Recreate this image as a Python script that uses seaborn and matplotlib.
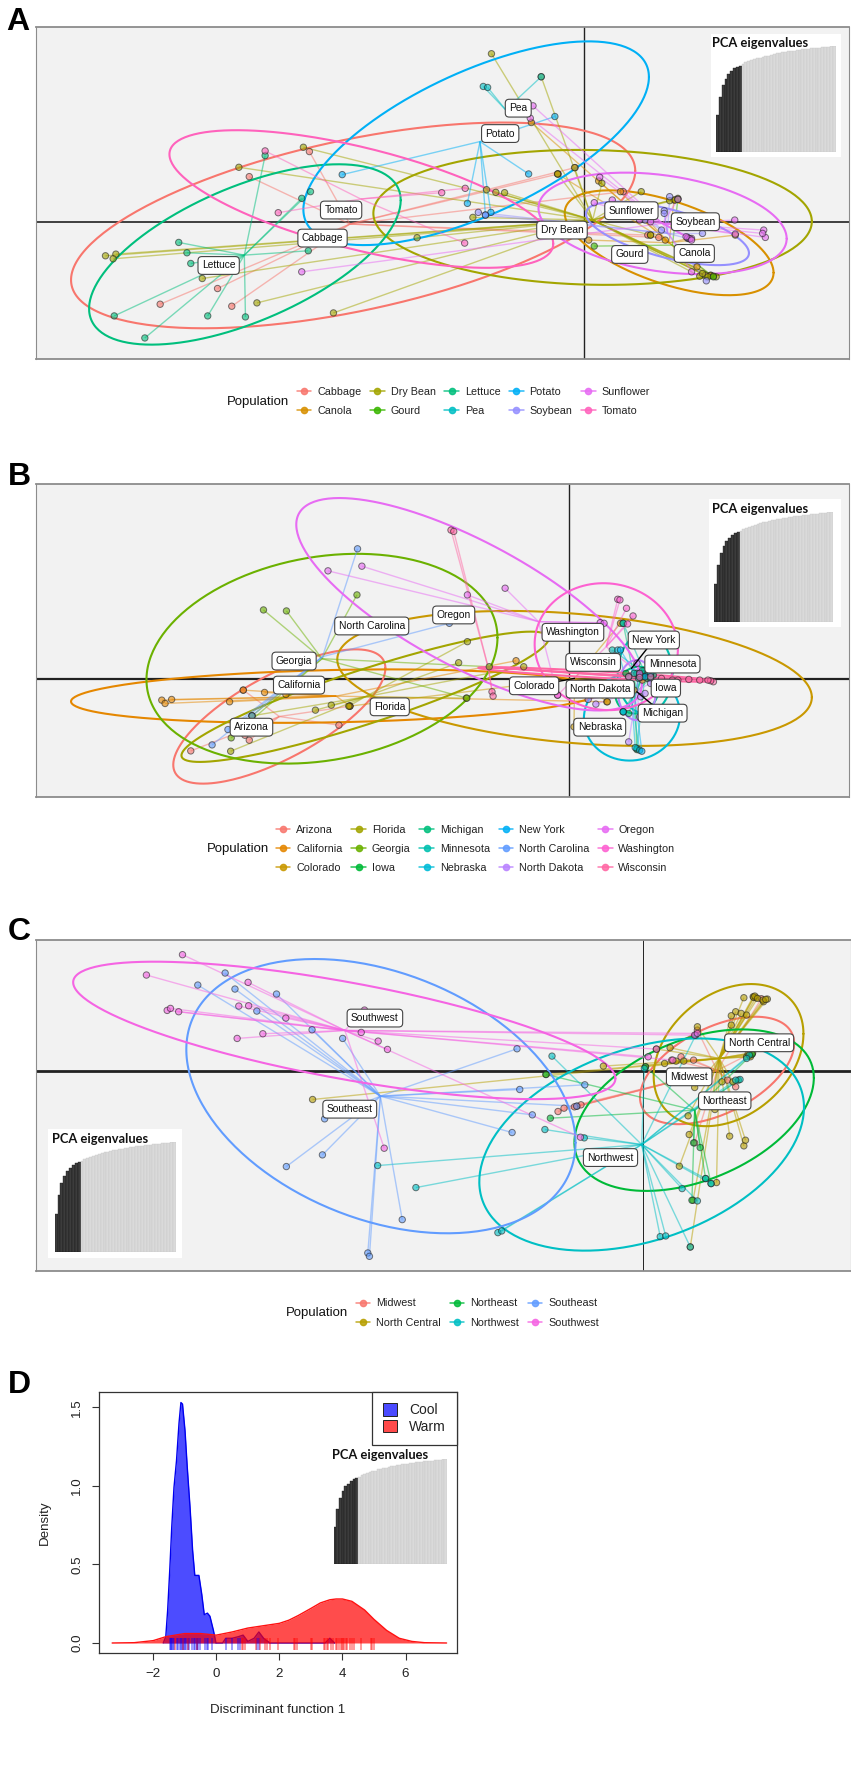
import numpy as np
import pandas as pd
import matplotlib
matplotlib.use('Agg')
import matplotlib.pyplot as plt
from matplotlib import font_manager
from matplotlib.lines import Line2D
from matplotlib.patches import Patch
import seaborn as sns

# Values are read off the picture, the PCA scores are in arbitrary picture units
# (the axes of a DAPC have no scale anyway, so only the origin matters)

# ---------- panel A, crops ----------
a_pops = ['Cabbage', 'Canola', 'Dry Bean', 'Gourd', 'Lettuce', 'Pea', 'Potato', 'Soybean', 'Sunflower', 'Tomato']
a_colors = ['#F8766D', '#D89000', '#A3A500', '#39B600', '#00BF7D', '#00BFC4', '#00B0F6', '#9590FF', '#E76BF3', '#FF62BC']
cabbage = [(456, 530), (566, 455), (293, 912), (398, 865), (424, 918), (1021, 522), (1052, 503), (1185, 705), (1205, 712), (1140, 575)]
canola = [(1077, 720), (1095, 543), (1135, 575), (972, 368), (1020, 522), (1260, 715), (1275, 800), (1300, 825), (1345, 705), (1217, 720), (1190, 705), (1233, 600)]
dry_bean = [(899, 162), (555, 442), (437, 502), (193, 767), (212, 762), (207, 776), (370, 835), (470, 908), (610, 938), (763, 713),
            (865, 652), (890, 569), (907, 577), (923, 578), (990, 231), (1051, 503), (1020, 522), (1101, 550), (1173, 575), (1225, 602),
            (1280, 828), (1300, 826), (1310, 830), (1190, 705), (1290, 825), (1295, 830), (1305, 828), (1285, 820), (1240, 595), (1235, 600)]
gourd = [(1087, 738), (1240, 598), (1305, 830)]
lettuce = [(485, 467), (552, 595), (568, 575), (327, 727), (342, 758), (349, 790), (564, 752), (209, 947), (265, 1013), (380, 947), (449, 950)]
pea = [(884, 260), (892, 263), (990, 231)]
potato = [(626, 524), (1015, 350), (967, 522), (855, 610), (898, 637), (888, 645)]
soybean = [(875, 637), (888, 645), (1215, 632), (1225, 590), (1285, 700), (1292, 842), (1180, 660), (1210, 690), (1258, 715), (1165, 630), (1215, 640)]
sunflower = [(975, 318), (970, 355), (552, 815), (1097, 532), (1344, 660), (1397, 690), (1400, 712), (1395, 700), (1265, 715), (1265, 815), (1240, 598),
             (1120, 600), (1087, 608), (1345, 702), (1258, 712), (1262, 716), (1265, 720), (1255, 710), (1170, 660), (1190, 665)]
tomato = [(485, 453), (509, 638), (850, 729), (808, 578), (851, 565)]
a_points = [cabbage, canola, dry_bean, gourd, lettuce, pea, potato, soybean, sunflower, tomato]
a_star_x = [640, 1224, 1084, 1230, 447, 925, 878, 1221, 1212, 660]
a_star_y = [672, 728, 660, 735, 765, 330, 425, 700, 670, 597]
a_ell_x = [646, 1224, 1084, np.nan, 448, np.nan, 871, 1221, 1212, 661]
a_ell_y = [676, 728, 652, np.nan, 763, np.nan, 430, 700, 670, 597]
a_ell_w = [516, 191, 401, np.nan, 285, np.nan, 316, 149, 227, 351]
a_ell_h = [308, 157, 202, np.nan, 270, np.nan, 305, 95, 152, 206]
a_ell_r = [0.53, -0.57, -0.06, np.nan, 0.6, np.nan, 0.65, -0.62, -0.3, -0.65]
a_lab_x = [590, 1270, 1028, 1152, 400, 948, 915, 1272, 1155, 624]
a_lab_y = [714, 760, 690, 763, 796, 325, 401, 665, 632, 630]

# ---------- panel B, states ----------
b_pops = ['Arizona', 'California', 'Colorado', 'Florida', 'Georgia', 'Iowa', 'Michigan', 'Minnesota', 'Nebraska',
          'New York', 'North Carolina', 'North Dakota', 'Oregon', 'Washington', 'Wisconsin']
b_colors = ['#F8766D', '#E58700', '#C99800', '#A3A500', '#6BB100', '#00BA38', '#00BF7D', '#00C0AF', '#00BCD8',
            '#00B0F6', '#619CFF', '#B983FF', '#E76BF3', '#FD61D1', '#FF67A4']
arizona = [(349, 872), (456, 840), (448, 825), (620, 795), (445, 690), (640, 738)]
california = [(296, 720), (302, 730), (314, 718), (420, 725), (484, 697), (523, 703), (445, 690), (944, 602), (640, 738), (1110, 725)]
colorado = [(1111, 725), (1135, 490), (640, 738), (1050, 800), (1160, 690), (1175, 660)]
florida = [(422, 873), (461, 767), (855, 545), (839, 608), (853, 714), (958, 620), (606, 735), (577, 750), (638, 738)]
georgia = [(482, 450), (524, 453), (653, 405), (423, 833), (854, 714), (461, 767), (895, 620)]
iowa = [(1180, 640), (1165, 868), (1145, 640), (1178, 632), (1190, 640), (1172, 650), (1184, 655)]
michigan = [(1140, 755), (1140, 490), (1175, 640), (1175, 650), (1195, 645), (1150, 760), (1165, 640)]
minnesota = [(1140, 490), (1165, 865), (1120, 570), (1190, 650), (1140, 755), (1170, 640), (1185, 635), (1190, 655), (1160, 640), (1175, 632), (1168, 655)]
nebraska = [(1162, 862), (1170, 870), (1140, 755), (1130, 570), (1150, 650), (1170, 650)]
new_york = [(1174, 873), (1135, 570), (1190, 640), (1180, 650), (1170, 645)]
north_carolina = [(654, 267), (388, 854), (822, 490), (461, 767), (417, 808)]
north_dakota = [(1076, 718), (1090, 732), (1172, 710), (1170, 770), (1165, 610), (1150, 845), (1180, 700), (1190, 670)]
oregon = [(600, 333), (662, 319), (855, 405), (924, 385), (1098, 488), (1105, 490), (1020, 705)]
washington = [(1130, 418), (1134, 420), (1146, 445), (1158, 468), (1148, 492), (1020, 705), (1170, 640)]
wisconsin = [(825, 211), (830, 215), (900, 695), (902, 708), (1305, 665), (1190, 650), (1150, 650), (1230, 660),
             (1300, 662), (1295, 660), (1280, 660), (1260, 658), (1240, 660), (1210, 655), (1170, 652)]
b_points = [arizona, california, colorado, florida, georgia, iowa, michigan, minnesota, nebraska,
            new_york, north_carolina, north_dakota, oregon, washington, wisconsin]
b_star_x = [511, 615, 1051, 668, 589, 1160, 1165, 1180, 1156, 1155, 590, 1165, 985, 1109, 893]
b_star_y = [769, 708, 655, 710, 596, 650, 695, 640, 720, 625, 590, 690, 485, 560, 622]
b_ell_x = [511, 615, 1051, 668, 589, np.nan, 1165, 1180, 1156, np.nan, np.nan, 1165, 858, 1109, 1090]
b_ell_y = [769, 708, 655, 710, 596, np.nan, 690, 640, 770, np.nan, np.nan, 690, 433, 560, 643]
b_ell_w = [194, 485, 434, 336, 321, np.nan, 40, 50, 88, np.nan, np.nan, 35, 316, 131, 215]
b_ell_h = [201, 80, 202, 195, 314, np.nan, 70, 120, 131, np.nan, np.nan, 90, 318, 190, 22]
b_ell_r = [0.72, 0.2, -0.28, 0.9, 0.2, np.nan, 0.1, 0.0, 0.05, np.nan, np.nan, 0.0, -0.75, -0.04, -0.9]
b_lab_x = [460, 547, 977, 713, 538, 1218, 1212, 1230, 1097, 1196, 680, 1098, 830, 1048, 1085]
b_lab_y = [801, 675, 677, 740, 603, 684, 759, 612, 801, 540, 498, 687, 465, 517, 607]
b_linked = ['Colorado', 'Michigan', 'New York']

# ---------- panel C, regions ----------
c_pops = ['Midwest', 'North Central', 'Northeast', 'Northwest', 'Southeast', 'Southwest']
c_colors = ['#F8766D', '#B79F00', '#00BA38', '#00BFC4', '#619CFF', '#F564E3']
midwest = [(1020, 634), (1031, 624), (1055, 618), (1062, 614), (1050, 620), (1245, 470), (1228, 480), (1270, 728), (1275, 390), (1268, 480), (1370, 462), (1392, 296), (1345, 560), (1330, 540)]
north_central = [(571, 598), (1103, 498), (998, 523), (1180, 500), (1200, 447), (1225, 443), (1250, 483), (1275, 380), (1360, 293), (1377, 290), (1382, 293),
                 (1403, 297), (1396, 305), (1345, 335), (1337, 347), (1355, 340), (1365, 345), (1337, 375), (1270, 562), (1258, 647), (1260, 703), (1242, 798),
                 (1310, 847), (1267, 900), (1262, 1040), (1334, 708), (1360, 737), (1363, 720), (1307, 628), (1375, 462), (1365, 470), (1340, 545), (1320, 545),
                 (1378, 292), (1380, 288), (1385, 295), (1395, 300), (1400, 298), (1372, 465), (1368, 460), (1372, 470), (1376, 458), (1236, 483), (1215, 490)]
northeast = [(1006, 654), (998, 523), (1180, 500), (1280, 742), (1290, 835), (1300, 850), (1265, 900), (1350, 540), (1375, 462), (1268, 728)]
northwest = [(1009, 468), (996, 688), (1068, 713), (1178, 505), (690, 796), (760, 862), (910, 997), (917, 992), (1207, 1009), (1217, 1007),
             (1262, 1040), (1247, 865), (1275, 902), (1300, 850), (1290, 835), (1353, 538), (1272, 405), (1370, 465), (1365, 475), (1345, 540)]
southeast = [(411, 219), (361, 255), (429, 267), (469, 333), (505, 282), (570, 389), (626, 415), (945, 446), (950, 568), (1069, 554),
             (1054, 618), (973, 644), (936, 697), (593, 656), (589, 764), (523, 799), (735, 958), (672, 1058), (675, 1068)]
southwest = [(333, 164), (267, 225), (305, 331), (311, 325), (326, 335), (453, 247), (436, 318), (454, 317), (522, 354), (433, 415), (480, 401),
             (660, 397), (691, 423), (708, 448), (1061, 711), (702, 744), (666, 330), (1270, 405), (1275, 400), (1200, 447), (1185, 470), (1230, 480)]
c_points = [midwest, north_central, northeast, northwest, southeast, southwest]
c_star_x = [1311, 1315, 1270, 1173, 695, 630]
c_star_y = [511, 475, 630, 733, 588, 391]
c_ell_x = [1311, 1332, 1269, 1173, 696, 629]
c_ell_y = [511, 465, 630, 733, 588, 391]
c_ell_w = [141, 137, 219, 297, 356, 496]
c_ell_h = [161, 213, 242, 318, 411, 206]
c_ell_r = [0.5, 0.3, 0.4, 0.35, -0.34, -0.7]
c_lab_x = [1260, 1388, 1325, 1116, 639, 685]
c_lab_y = [530, 428, 602, 772, 627, 354]

# ---------- panel D, densities ----------
cool_x = [-1.68, -1.60, -1.54, -1.47, -1.41, -1.34, -1.26, -1.18, -1.12, -1.07, -0.99, -0.92, -0.83, -0.75, -0.68, -0.55,
          -0.46, -0.38, -0.28, -0.20, -0.09, -0.01, 0.2, 0.3, 0.5, 0.7, 0.85, 1.0, 1.2, 1.35, 1.5, 1.7, 3.45, 3.6, 3.75]
cool_y = [0, 0.04, 0.21, 0.48, 0.74, 0.99, 1.16, 1.40, 1.53, 1.52, 1.35, 1.12, 0.86, 0.59, 0.43, 0.43,
          0.31, 0.18, 0.19, 0.17, 0.08, 0, 0, 0.03, 0.03, 0.04, 0.05, 0.01, 0.03, 0.07, 0.03, 0, 0, 0.03, 0]
warm_x = [-3.3, -2.6, -2.0, -1.6, -1.0, -0.5, 0, 0.5, 1.0, 1.5, 2.0, 2.3, 2.6, 3.0, 3.3, 3.6, 3.8, 4.0, 4.3, 4.7, 5.0, 5.4, 5.8, 6.2, 6.6, 7.3]
warm_y = [0, 0.002, 0.015, 0.04, 0.06, 0.06, 0.05, 0.07, 0.095, 0.11, 0.125, 0.145, 0.175, 0.22, 0.255, 0.275, 0.28, 0.28, 0.265, 0.21, 0.15, 0.08, 0.03, 0.01, 0.002, 0]
cool_rug = [-1.48, -1.45, -1.42, -1.4, -1.38, -1.35, -1.25, -1.2, -1.15, -1.12, -1.1, -1.06, -1.03, -1.0, -0.95, -0.9, -0.85, -0.78,
            -0.72, -0.66, -0.62, -0.6, -0.57, -0.5, -0.35, -0.3, -0.25, -0.15, 0.3, 0.5, 0.7, 0.75, 1.3, 1.35]
warm_rug = [-1.3, -1.05, -0.9, -0.6, 0.8, 0.85, 0.9, 1.25, 1.4, 1.55, 1.6, 1.7, 1.95, 2.45, 2.5, 2.55, 3.0, 3.02, 3.4, 3.45, 3.5, 3.55, 3.65,
            3.7, 3.78, 3.82, 3.9, 3.95, 4.0, 4.02, 4.05, 4.1, 4.15, 4.25, 4.3, 4.35, 4.6, 4.9, 4.95, 5.0]

# cumulative variance of the PCA eigenvalues, the dark bars are the retained axes
eigen_kept = [0.35, 0.52, 0.63, 0.69, 0.74, 0.765, 0.79, 0.805, 0.815]
eigen_rest = [0.83, 0.845, 0.855, 0.865, 0.875, 0.885, 0.89, 0.90, 0.905, 0.91, 0.918, 0.925, 0.93, 0.935, 0.94, 0.945, 0.95,
              0.953, 0.957, 0.96, 0.964, 0.968, 0.971, 0.974, 0.977, 0.98, 0.983, 0.985, 0.988, 0.99, 0.993, 0.996, 1.0]

sns.set_theme(style='white')
names = {f.name for f in font_manager.fontManager.ttflist}
has_narrow = 'Liberation Sans Narrow' in names
NARROW = 'Liberation Sans Narrow' if has_narrow else 'Liberation Sans'
SHRINK = 1.0 if has_narrow else 0.82
plt.rcParams['font.family'] = ['Liberation Sans', 'DejaVu Sans']

W, H = 851, 1766
fig = plt.figure(figsize=(W / 100, H / 100), dpi=100, facecolor='white')


def axes_px(left, top, right, bottom, **kw):
    return fig.add_axes([left / W, 1 - bottom / H, (right - left) / W, (bottom - top) / H], **kw)


def draw_eigen(box, bars, title_x, title_y):
    # white box with the bar chart and its title, all in figure pixels
    back = axes_px(*box, facecolor='white', zorder=5)
    back.set_xticks([])
    back.set_yticks([])
    sns.despine(ax=back, left=True, right=True, top=True, bottom=True)
    ax = axes_px(*bars, zorder=6)
    vals = eigen_kept + eigen_rest
    names_ = [str(i) for i in range(len(vals))]
    cols = ['#3c3c3c'] * len(eigen_kept) + ['#dadada'] * len(eigen_rest)
    sns.barplot(x=names_, y=vals, hue=names_, palette=cols, legend=False, width=1, ax=ax,
                edgecolor='#c4c4c4', linewidth=0.25)
    for patch in ax.patches[:len(eigen_kept)]:
        patch.set_edgecolor('#111111')
    ax.set_xlim(-0.5, len(vals) - 0.5)
    ax.set_ylim(0, 1)
    ax.axis('off')
    fig.text(title_x / W, 1 - title_y / H, 'PCA eigenvalues', family='Lato', weight='bold', size=9.3,
             color='#111111', ha='left', va='center', zorder=10)


def draw_pca(pos, pops, colors, points, star_x, star_y, ell_x, ell_y, ell_w, ell_h, ell_r,
             lab_x, lab_y, xlim, ylim, origin, h_lw, v_lw, linked=()):
    ax = axes_px(*pos, facecolor='#F2F2F2')
    ax.axhline(origin[1], color='#222222', lw=h_lw, zorder=1)
    ax.axvline(origin[0], color='#222222', lw=v_lw, zorder=1)

    t = np.linspace(0, 2 * np.pi, 240)
    for i, col in enumerate(colors):
        if not np.isnan(ell_w[i]):
            rho = ell_r[i]
            ex = ell_x[i] + ell_w[i] * np.cos(t)
            ey = ell_y[i] - ell_h[i] * (rho * np.cos(t) + np.sqrt(1 - rho ** 2) * np.sin(t))
            ax.plot(ex, ey, color=col, lw=1.5, zorder=2)
        for (px, py) in points[i]:
            ax.plot([star_x[i], px], [star_y[i], py], color=col, lw=1.0, alpha=0.5, zorder=2, solid_capstyle='butt')

    rows = [(px, py, pops[i]) for i in range(len(pops)) for (px, py) in points[i]]
    df = pd.DataFrame(rows, columns=['pc1', 'pc2', 'population'])
    sns.scatterplot(data=df, x='pc1', y='pc2', hue='population', hue_order=pops, palette=colors,
                    s=21, alpha=0.6, edgecolor='#222222', linewidth=0.7, legend=False, zorder=3, ax=ax)

    for i, name in enumerate(pops):
        if name in linked:
            ax.plot([lab_x[i], star_x[i]], [lab_y[i], star_y[i]], color='black', lw=1.0, zorder=4)
        ax.text(lab_x[i], lab_y[i], name, family=NARROW, size=9.0 * SHRINK, color='#111111', ha='center', va='center',
                zorder=4.5, bbox=dict(boxstyle='round,pad=0.38', fc='white', ec='#444444', lw=0.8))

    ax.set_xlim(*xlim)
    ax.set_ylim(*ylim)  # picture units, so y runs downwards
    ax.set(xlabel='', ylabel='', xticks=[], yticks=[])
    for side, spine in ax.spines.items():
        spine.set_color('#8c8c8c')
        spine.set_linewidth(1.3 if side in ('top', 'bottom') else 0.8)
    return ax


def draw_legend(pops, colors, ncol, key_left, y_mid, title_x):
    handles = [Line2D([0], [0], color=c, lw=1.1, marker='o', ms=4.5, mfc=c, mec=c, alpha=0.85) for c in colors]
    fig.legend(handles, pops, ncol=ncol, loc='center left', bbox_to_anchor=(key_left / W, 1 - y_mid / H), frameon=False,
               borderpad=0, borderaxespad=0, handlelength=1.35, handletextpad=0.55, columnspacing=0.82, labelspacing=0.85,
               prop=dict(family=NARROW, size=9.4 * SHRINK), labelcolor='#222222')
    fig.text(title_x / W, 1 - y_mid / H, 'Population', family=NARROW, size=11.5 * SHRINK, color='#111111', ha='center', va='center')


# A
draw_pca((35.5, 27, 849, 359), a_pops, a_colors, a_points, a_star_x, a_star_y, a_ell_x, a_ell_y, a_ell_w, a_ell_h, a_ell_r,
         a_lab_x, a_lab_y, (65, 1553), (1076, 82), (1069, 667), 1.2, 1.0)
draw_eigen((711, 34, 841, 157), (716, 46, 835.5, 152), 712, 43)
draw_legend(a_pops, a_colors, 5, 297, 401.5, 258)

# B
draw_pca((35.5, 484, 849, 797), b_pops, b_colors, b_points, b_star_x, b_star_y, b_ell_x, b_ell_y, b_ell_w, b_ell_h, b_ell_r,
         b_lab_x, b_lab_y, (65, 1553), (1010, 73), (1040, 657), 1.6, 1.0, linked=b_linked)
draw_eigen((708.6, 499, 841, 627), (714, 512, 833, 622), 712, 509)
draw_legend(b_pops, b_colors, 5, 276, 849, 238)

# C
draw_pca((36, 940, 851, 1271), c_pops, c_colors, c_points, c_star_x, c_star_y, c_ell_x, c_ell_y, c_ell_w, c_ell_h, c_ell_r,
         c_lab_x, c_lab_y, (65, 1556), (1112, 120), (1176, 513), 2.0, 0.7)
draw_eigen((48, 1129, 181.5, 1258), (54.7, 1142, 175.5, 1252), 52, 1139)
draw_legend(c_pops, c_colors, 3, 356, 1313, 317)

# D
ax_d = axes_px(98.7, 1392, 457, 1653, facecolor='white')
ax_d.fill_between(cool_x, cool_y, 0, color='#0000ff', alpha=0.7, lw=0, zorder=2)
sns.lineplot(x=cool_x, y=cool_y, color='#0000ee', lw=1, sort=False, estimator=None, ax=ax_d, zorder=2)
ax_d.fill_between(warm_x, warm_y, 0, color='#ff0000', alpha=0.7, lw=0, zorder=3)
sns.lineplot(x=warm_x, y=warm_y, color='#ff1111', lw=1, sort=False, estimator=None, ax=ax_d, zorder=3)
ax_d.vlines(cool_rug, -0.047, 0.03, color='#0000ff', alpha=0.45, lw=1.2, zorder=4)
ax_d.vlines(warm_rug, -0.047, 0.03, color='#ff0000', alpha=0.45, lw=1.2, zorder=4)
ax_d.set_xlim(-3.726, 7.63)
ax_d.set_ylim(-0.0637, 1.597)
ax_d.set_xticks([-2, 0, 2, 4, 6])
ax_d.set_yticks([0, 0.5, 1.0, 1.5])
ax_d.tick_params(axis='both', length=5, width=0.8, color='#333333', labelsize=9.6, labelcolor='#222222', pad=6, bottom=True, left=True)
plt.setp(ax_d.get_yticklabels(), rotation=90, va='center')
ax_d.set_xlabel('Discriminant function 1', size=9.6, color='#222222', labelpad=17)
ax_d.set_ylabel('Density', size=9.6, color='#222222', labelpad=15)
for spine in ax_d.spines.values():
    spine.set_color('#333333')
    spine.set_linewidth(0.9)
leg = ax_d.legend(handles=[Patch(fc='#4a4aff', ec='#222222', lw=0.7, label='Cool'), Patch(fc='#ff4a4a', ec='#222222', lw=0.7, label='Warm')],
                  loc='upper right', borderaxespad=0, fancybox=False, framealpha=1, edgecolor='#333333', fontsize=10, borderpad=0.8,
                  handlelength=1.0, handleheight=1.0, handletextpad=0.9, labelspacing=0.2, labelcolor='#222222')
leg.get_frame().set_linewidth(0.9)
draw_eigen((327.7, 1447, 454, 1570), (333.7, 1459, 447, 1563.7), 332, 1455)

# panel letters
for letter, x, y in [('A', 6, 30), ('B', 8, 485), ('C', 8, 940), ('D', 8, 1393)]:
    fig.text(x / W, 1 - y / H, letter, family='Liberation Sans', weight='bold', size=23, color='black', ha='left', va='baseline')

fig.savefig('out.png', dpi=100, facecolor='white')
